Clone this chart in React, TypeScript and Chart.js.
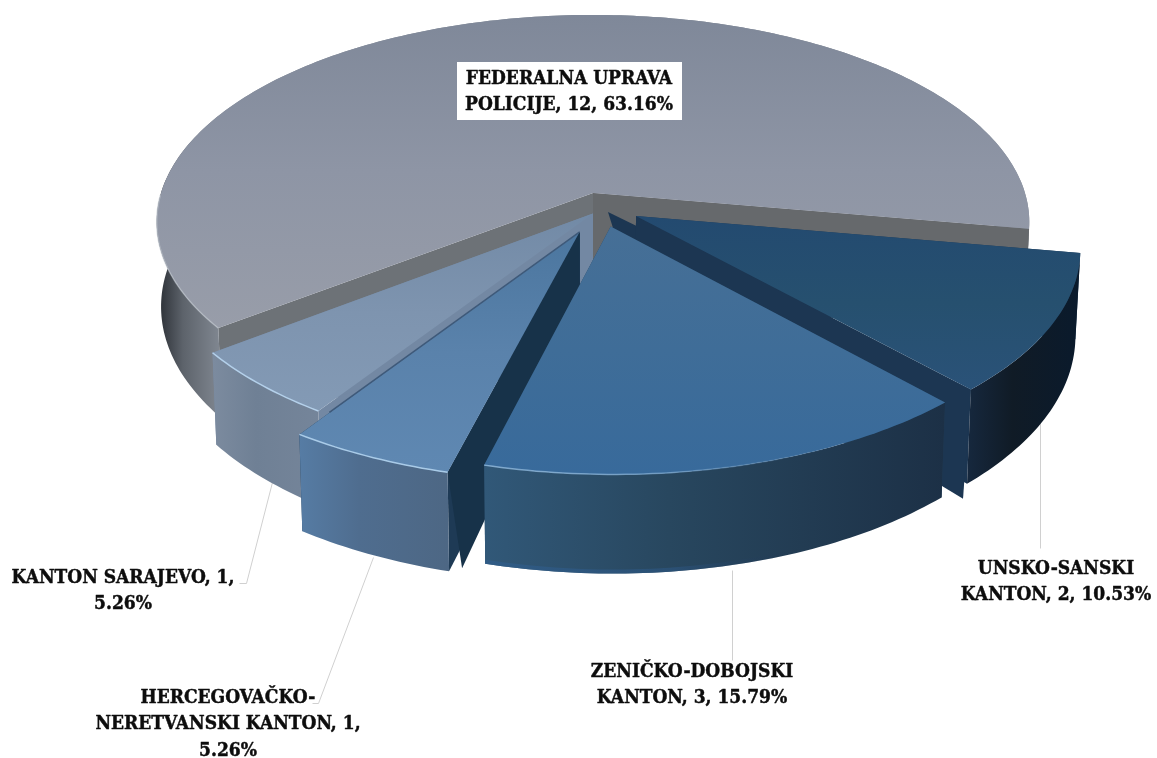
import React, { useEffect, useRef } from "react";
import { Chart, registerables } from "chart.js";

Chart.register(...registerables);

const categories = [
  "FEDERALNA UPRAVA POLICIJE",
  "UNSKO-SANSKI KANTON",
  "ZENIČKO-DOBOJSKI KANTON",
  "HERCEGOVAČKO-NERETVANSKI KANTON",
  "KANTON SARAJEVO",
];
const values = [12, 2, 3, 1, 1];
const labelLines = [
  ["FEDERALNA UPRAVA", "POLICIJE, 12, 63.16%"],
  ["UNSKO-SANSKI", "KANTON, 2, 10.53%"],
  ["ZENIČKO-DOBOJSKI", "KANTON, 3, 15.79%"],
  ["HERCEGOVAČKO-", "NERETVANSKI KANTON, 1,", "5.26%"],
  ["KANTON SARAJEVO, 1,", "5.26%"],
];

const labelPos: [number, number][] = [
  [569, 79],
  [1056, 569],
  [692, 672],
  [228, 698],
  [123, 578],
];
const leaders: [number, number][][] = [
  [],
  [[1040, 420], [1040, 548]],
  [[732, 570], [732, 660]],
  [[373, 557], [318, 703], [312, 703]],
  [[273, 478], [246, 583], [239, 583]],
];

const CX = 593, CY = 193, R = 432, RY = 203, P = 0.14, H = 83;
const ROTATION = 232.5;
const offsets: [number, number][] = [
  [0, 0],
  [0.098, -0.112],
  [0.04, -0.161],
  [-0.03, -0.186],
  [0, -0.1],
];
const wallApexShift: [number, number][] = [[0, 0], [-28, -4], [0, 0], [0, 0], [0, 0]];
const spikes: ([number, number] | null)[] = [null, [-4, 15], null, [13, -3], null];
const spikeColors = ["", "#1c3652", "", "#173249", ""];
const paintOrder = [0, 4, 3, 1, 2];

const topColors = [
  ["#7f8899", "#8e95a5", "#989da9"],
  ["#234a70", "#26506f", "#2a5278"],
  ["#466f96", "#3f6d98", "#386a9b"],
  ["#4b769f", "#5a82ab", "#5f88b2"],
  ["#728aa6", "#7e94af", "#839ab5"],
];
const wallColors = [
  ["#24282e", "#5d636b", "#858c96"],
  ["#16283e", "#101b26", "#0a1a2c"],
  ["#315878", "#28475f", "#1c3046"],
  ["#567ca4", "#4f6d8f", "#4d6784"],
  ["#7c8b9f", "#6f8095", "#75859a"],
];
const radialColors = ["#6d7277", "#1c3652", "#20405c", "#1e3a55", "#7388a3"];
const rightCutColor = "#66696c";
const highlight = ["rgba(190,196,205,0.6)", "", "rgba(140,180,215,0.9)", "#a9cbe8", "#b4d0ea"];

function project(u: number, v: number, z: number): [number, number] {
  const s = 1 / (1 + P * v);
  const k = z ? 0.99 : 1;
  return [CX + R * u * s * k, CY - RY * v * s + z * H * s];
}

const pie3d = {
  id: "pie3d",
  afterDatasetsDraw(chart: any) {
    const ctx: CanvasRenderingContext2D = chart.ctx;
    const arcs = chart.getDatasetMeta(0).data;

    ctx.save();
    ctx.strokeStyle = "#d0d0d0";
    ctx.lineWidth = 1;
    leaders.forEach((pts) => {
      if (!pts.length) return;
      ctx.beginPath();
      pts.forEach((p, i) => (i ? ctx.lineTo(p[0] + 0.5, p[1] + 0.5) : ctx.moveTo(p[0] + 0.5, p[1] + 0.5)));
      ctx.stroke();
    });

    paintOrder.forEach((i) => {
      const a = arcs[i];
      const [du, dv] = offsets[i];
      const n = Math.max(8, Math.ceil(((a.endAngle - a.startAngle) * 180) / Math.PI));
      const rim: [number, number][] = [];
      for (let k = 0; k <= n; k++) {
        const t = a.startAngle + ((a.endAngle - a.startAngle) * k) / n;
        rim.push([Math.cos(t) + du, -Math.sin(t) + dv]);
      }
      const top = rim.map((m) => project(m[0], m[1], 0));
      const bot = rim.map((m) => project(m[0], m[1], 1));
      const apexT = project(du, dv, 0);
      const apexB = project(du, dv, 1);

      // radial walls first: the outer wall and top hide the back-facing one
      const quad = (p: [number, number], q: [number, number], col: string, shift: [number, number]) => {
        ctx.fillStyle = col;
        ctx.beginPath();
        ctx.moveTo(apexT[0] + shift[0], apexT[1] + shift[1]);
        ctx.lineTo(p[0], p[1]);
        ctx.lineTo(q[0], q[1]);
        ctx.lineTo(apexB[0], apexB[1]);
        ctx.closePath();
        ctx.fill();
      };
      quad(top[0], bot[0], radialColors[i], [0, 0]);
      quad(top[n], bot[n], i === 0 ? rightCutColor : radialColors[i], wallApexShift[i]);
      const sp = spikes[i];
      if (sp) {
        const c = i === 1 ? top[n] : top[0];
        const d = i === 1 ? bot[n] : bot[0];
        quad(c, [d[0] + sp[0], d[1] + sp[1]], spikeColors[i], [0, 0]);
      }

      // outer wall
      const xs = top.concat(bot).map((p) => p[0]);
      let x0 = Math.min(...xs), x1 = Math.max(...xs);
      if (i === 0) { x0 = 155; x1 = 225; }
      const wg = ctx.createLinearGradient(x0, 0, x1, 0);
      wg.addColorStop(0, wallColors[i][0]);
      wg.addColorStop(0.4, wallColors[i][1]);
      wg.addColorStop(1, wallColors[i][2]);
      ctx.fillStyle = wg;
      ctx.beginPath();
      top.forEach((p, k) => (k ? ctx.lineTo(p[0], p[1]) : ctx.moveTo(p[0], p[1])));
      for (let k = bot.length - 1; k >= 0; k--) ctx.lineTo(bot[k][0], bot[k][1]);
      ctx.closePath();
      ctx.fill();

      // the cut face at the right of the big slice sits in front of its own rim wall
      if (i === 0) quad(top[n], bot[n], rightCutColor, [0, 0]);

      // bluish lower edge of the front slice wall
      if (i === 2) {
        const g = ctx.createLinearGradient(484, 0, 800, 0);
        g.addColorStop(0, "rgba(48,92,135,0.9)");
        g.addColorStop(0.6, "rgba(44,84,125,0.7)");
        g.addColorStop(1, "rgba(30,50,75,0)");
        ctx.strokeStyle = g;
        ctx.lineWidth = 4;
        ctx.beginPath();
        bot.forEach((p, k) => (k ? ctx.lineTo(p[0], p[1] - 2) : ctx.moveTo(p[0], p[1] - 2)));
        ctx.stroke();
      }

      // top face
      const ys = top.map((p) => p[1]).concat(apexT[1]);
      const tg = ctx.createLinearGradient(0, Math.min(...ys), 0, Math.max(...ys));
      tg.addColorStop(0, topColors[i][0]);
      tg.addColorStop(0.5, topColors[i][1]);
      tg.addColorStop(1, topColors[i][2]);
      ctx.fillStyle = tg;
      ctx.beginPath();
      ctx.moveTo(apexT[0], apexT[1]);
      top.forEach((p) => ctx.lineTo(p[0], p[1]));
      ctx.closePath();
      ctx.fill();

      // thin dark seam along the left edge of the Hercegovina slice
      if (i === 3) {
        ctx.strokeStyle = "#3f5a7a";
        ctx.lineWidth = 1.5;
        ctx.beginPath();
        ctx.moveTo(apexT[0], apexT[1]);
        ctx.lineTo(top[n][0] + 30, top[n][1] - 22);
        ctx.stroke();
      }

      // light rim
      if (highlight[i]) {
        let stroke: any = highlight[i];
        if (i === 2) {
          const g = ctx.createLinearGradient(484, 0, 860, 0);
          g.addColorStop(0, highlight[i]);
          g.addColorStop(0.5, "rgba(120,165,205,0.7)");
          g.addColorStop(1, "rgba(60,110,160,0)");
          stroke = g;
        }
        ctx.strokeStyle = stroke;
        ctx.lineWidth = 1.5;
        ctx.beginPath();
        let started = false;
        top.forEach((p, k) => {
          const ang = a.startAngle + ((a.endAngle - a.startAngle) * k) / n;
          if (i === 0 && !(Math.sin(ang) > 0 && Math.cos(ang) < 0)) return;
          if (!started) { ctx.moveTo(p[0], p[1]); started = true; } else ctx.lineTo(p[0], p[1]);
        });
        ctx.stroke();
      }
    });

    // labels
    ctx.font = 'bold 19px "DejaVu Serif Condensed", "Liberation Serif", serif';
    ctx.textAlign = "center";
    ctx.textBaseline = "middle";
    const lh = 26.3;
    ctx.fillStyle = "#ffffff";
    ctx.fillRect(457, 62, 225, 58);
    ctx.fillStyle = "#0d0d0d";
    ctx.strokeStyle = "#0d0d0d";
    ctx.lineWidth = 0.45;
    ctx.lineJoin = "round";
    labelLines.forEach((lines, i) => {
      const [x, y] = labelPos[i];
      lines.forEach((t, k) => {
        ctx.fillText(t, x, y + k * lh);
        ctx.strokeText(t, x, y + k * lh);
      });
    });
    ctx.restore();
  },
};

export default function App() {
  const ref = useRef<HTMLCanvasElement>(null);
  useEffect(() => {
    const chart = new Chart(ref.current as HTMLCanvasElement, {
      type: "pie",
      data: {
        labels: categories,
        datasets: [{ data: values, backgroundColor: "rgba(0,0,0,0)", borderWidth: 0 }],
      },
      options: {
        responsive: false,
        animation: false,
        rotation: ROTATION,
        plugins: { legend: { display: false }, tooltip: { enabled: false } },
      },
      plugins: [pie3d],
    } as any);
    return () => chart.destroy();
  }, []);
  return (
    <div style={{ position: "absolute", left: 0, top: 0, width: 1157, height: 758, background: "#fff" }}>
      <canvas ref={ref} width={1157} height={758} style={{ display: "block" }} />
    </div>
  );
}
